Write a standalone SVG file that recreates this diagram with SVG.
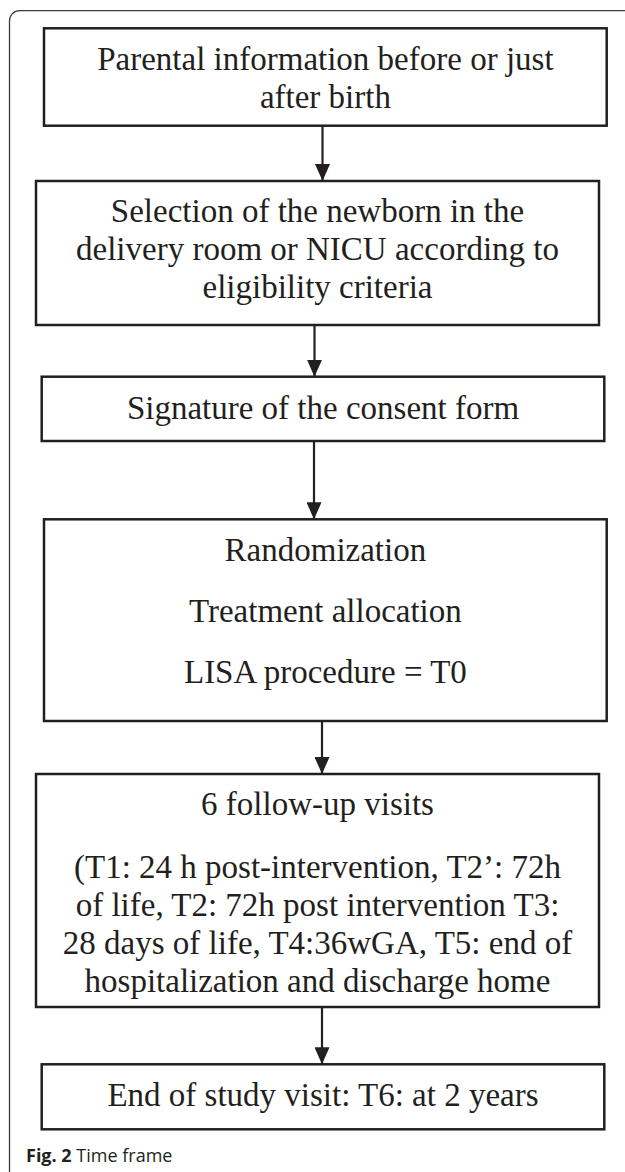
<svg xmlns="http://www.w3.org/2000/svg" width="625" height="1172" viewBox="0 0 625 1172">
  <style>
    .box { fill: #ffffff; stroke: #231f20; stroke-width: 2.5; }
    .lbl { font-family: "Liberation Serif", "Times New Roman", serif; font-size: 33px; fill: #231f20; text-anchor: middle; }
    .conn { stroke: #231f20; stroke-width: 2.2; fill: none; marker-end: url(#arrow); }
    .cap { font-family: "Open Sans", "Noto Sans", sans-serif; font-size: 18px; fill: #231f20; }
  </style>
  <defs>
    <marker id="arrow" viewBox="0 0 17 15" markerWidth="17" markerHeight="15" refX="17" refY="7.5" orient="auto" markerUnits="userSpaceOnUse">
      <path d="M0,0 L17,7.5 L0,15 Z" fill="#231f20"/>
    </marker>
  </defs>
  <rect x="0" y="0" width="625" height="1172" fill="#ffffff"/>
  <rect id="frame" x="9.5" y="10.7" width="700" height="1300" rx="10" ry="10" fill="none" stroke="#3c3c3c" stroke-width="1.3"/>

  <g id="connectors">
    <line class="conn" x1="322.5" y1="126" x2="322.5" y2="181"/>
    <line class="conn" x1="314.5" y1="325" x2="314.5" y2="376.7"/>
    <line class="conn" x1="314" y1="441" x2="314" y2="519.3"/>
    <line class="conn" x1="322" y1="721" x2="322" y2="774"/>
    <line class="conn" x1="322" y1="1007" x2="322" y2="1064.3"/>
  </g>

  <g id="node-parental">
    <rect class="box" x="44" y="28.3" width="562.7" height="97.4"/>
    <text class="lbl" x="325.4" y="70">Parental information before or just</text>
    <text class="lbl" x="325.4" y="108">after birth</text>
  </g>

  <g id="node-selection">
    <rect class="box" x="36" y="181" width="563" height="144"/>
    <text class="lbl" x="317.5" y="222">Selection of the newborn in the</text>
    <text class="lbl" x="317.5" y="260">delivery room or NICU according to</text>
    <text class="lbl" x="317.5" y="298">eligibility criteria</text>
  </g>

  <g id="node-consent">
    <rect class="box" x="41.7" y="376.7" width="562.6" height="64.3"/>
    <text class="lbl" x="323" y="419">Signature of the consent form</text>
  </g>

  <g id="node-randomization">
    <rect class="box" x="44" y="519.3" width="562.7" height="201.7"/>
    <text class="lbl" x="325.4" y="561">Randomization</text>
    <text class="lbl" x="325.4" y="622">Treatment allocation</text>
    <text class="lbl" x="325.4" y="683">LISA procedure = T0</text>
  </g>

  <g id="node-followup">
    <rect class="box" x="36" y="774" width="563" height="233"/>
    <text class="lbl" x="317.5" y="815">6 follow-up visits</text>
    <text class="lbl" x="317.5" y="878">(T1: 24 h post-intervention, T2’: 72h</text>
    <text class="lbl" x="317.5" y="916">of life, T2: 72h post intervention T3:</text>
    <text class="lbl" x="317.5" y="954">28 days of life, T4:36wGA, T5: end of</text>
    <text class="lbl" x="317.5" y="992">hospitalization and discharge home</text>
  </g>

  <g id="node-end">
    <rect class="box" x="41.7" y="1064.3" width="562.6" height="65"/>
    <text class="lbl" x="323" y="1106">End of study visit: T6: at 2 years</text>
  </g>

  <text class="cap" x="26" y="1162"><tspan font-weight="bold">Fig. 2</tspan> Time frame</text>
</svg>
